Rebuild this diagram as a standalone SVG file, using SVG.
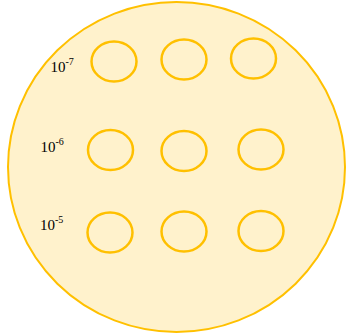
<svg xmlns="http://www.w3.org/2000/svg" width="346" height="334" viewBox="0 0 346 334">
<style>
.big{fill:#fff2cc;stroke:#ffc000;stroke-width:2}
.cell{fill:none;stroke:#ffc000;stroke-width:2.5}
.lbl{font-family:"Liberation Serif",serif;font-size:15px;fill:#000}
.sup{font-size:10px}
</style>
<g id="plate"><ellipse class="big" cx="176.5" cy="167" rx="168.5" ry="165"/></g>
<g id="row1">
<ellipse class="cell" cx="114" cy="61.5" rx="22.5" ry="20"/>
<ellipse class="cell" cx="184" cy="59.5" rx="22.5" ry="20"/>
<ellipse class="cell" cx="253.5" cy="58.5" rx="22.5" ry="20"/>
<text class="lbl" x="50.5" y="72">10<tspan class="sup" dy="-7">-7</tspan></text>
</g>
<g id="row2">
<ellipse class="cell" cx="110.5" cy="150" rx="22.5" ry="20"/>
<ellipse class="cell" cx="184" cy="151" rx="22.5" ry="20"/>
<ellipse class="cell" cx="261" cy="149.5" rx="22.5" ry="20"/>
<text class="lbl" x="40.5" y="152">10<tspan class="sup" dy="-7">-6</tspan></text>
</g>
<g id="row3">
<ellipse class="cell" cx="110" cy="232.5" rx="22.5" ry="20"/>
<ellipse class="cell" cx="184" cy="231.5" rx="22.5" ry="20"/>
<ellipse class="cell" cx="261" cy="231" rx="22.5" ry="20"/>
<text class="lbl" x="40" y="229.5">10<tspan class="sup" dy="-7">-5</tspan></text>
</g>
<g id="connectors"/>
</svg>
